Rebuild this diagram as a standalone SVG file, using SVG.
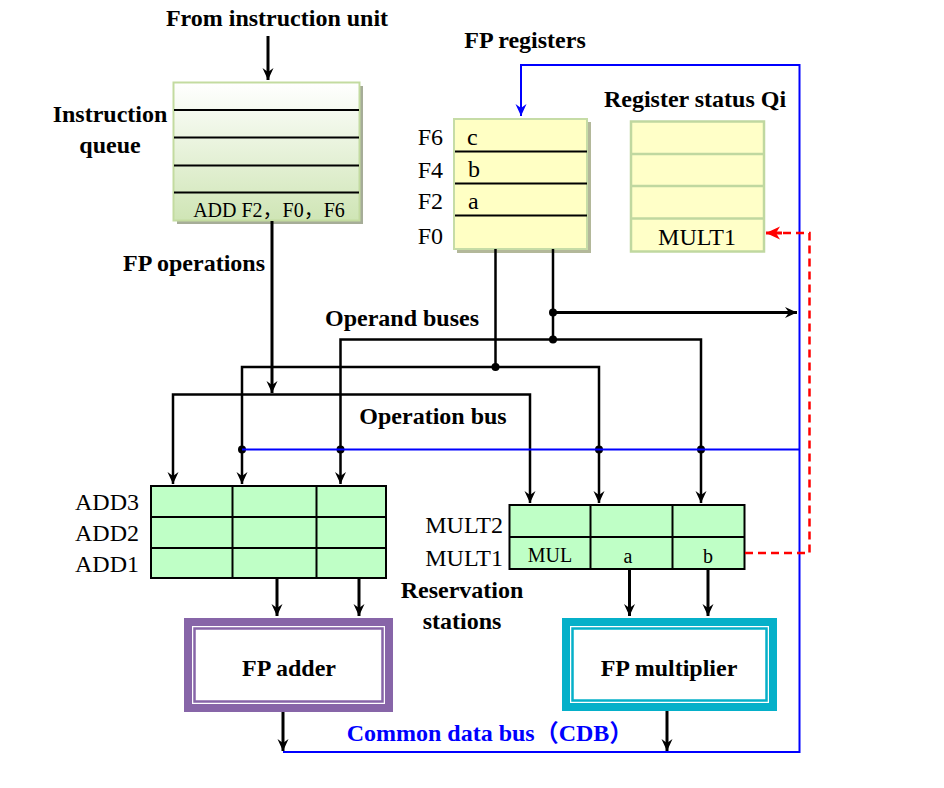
<svg xmlns="http://www.w3.org/2000/svg" width="944" height="788" viewBox="0 0 944 788">
<style>
text{font-family:"Liberation Serif","Times New Roman","Noto Sans CJK SC",serif;fill:#000}
.b{font-weight:bold;font-size:24px}
.r{font-size:24px}
.s{font-size:20px}
.ln{stroke:#000;stroke-width:2.5;fill:none}
.th{stroke:#000;stroke-width:3;fill:none}
.bl{stroke:#0000ff;stroke-width:2;fill:none}
.grid{stroke:#000;stroke-width:2;fill:none}
</style>
<defs>
<marker id="ah" markerWidth="14" markerHeight="12" viewBox="-12 -6 14 12" refX="0" refY="0" orient="auto-start-reverse" markerUnits="userSpaceOnUse">
<path d="M0,0 L-12,-5.5 L-8,0 L-12,5.5 z" fill="#000"/>
</marker>
<marker id="ahb" markerWidth="14" markerHeight="12" viewBox="-12 -6 14 12" refX="0" refY="0" orient="auto" markerUnits="userSpaceOnUse">
<path d="M0,0 L-12,-5.5 L-8,0 L-12,5.5 z" fill="#0000ff"/>
</marker>
<marker id="ahr" markerWidth="16" markerHeight="14" viewBox="-14 -7 16 14" refX="0" refY="0" orient="auto" markerUnits="userSpaceOnUse">
<path d="M0,0 L-14,-6.5 L-10,0 L-14,6.5 z" fill="#ff0000"/>
</marker>
<linearGradient id="qg" x1="0" y1="0" x2="0" y2="1">
<stop offset="0" stop-color="#ffffff"/>
<stop offset="1" stop-color="#cfe5b5"/>
</linearGradient>
</defs>

<!-- Labels -->
<g id="labels">
<text class="b" x="277" y="26" text-anchor="middle">From instruction unit</text>
<text class="b" x="110" y="122" text-anchor="middle">Instruction</text>
<text class="b" x="110" y="153" text-anchor="middle">queue</text>
<text class="b" x="194" y="271" text-anchor="middle">FP operations</text>
<text class="b" x="525" y="48" text-anchor="middle">FP registers</text>
<text class="b" x="695" y="107" text-anchor="middle">Register status Qi</text>
<text class="b" x="402" y="326" text-anchor="middle">Operand buses</text>
<text class="b" x="433" y="424" text-anchor="middle">Operation bus</text>
<text class="b" x="462" y="598" text-anchor="middle">Reservation</text>
<text class="b" x="462" y="629" text-anchor="middle">stations</text>
<text class="b" x="490" y="741" text-anchor="middle" style="fill:#0000ff">Common data bus（CDB）</text>
</g>

<!-- Instruction queue -->
<g id="instruction-queue">
<rect x="177" y="86" width="186" height="138" fill="#a6ad98"/>
<rect x="173.5" y="82.5" width="186" height="138" fill="url(#qg)" stroke="#c3dba0" stroke-width="2"/>
<line class="grid" x1="174" y1="110" x2="359" y2="110"/>
<line class="grid" x1="174" y1="137.5" x2="359" y2="137.5"/>
<line class="grid" x1="174" y1="165.5" x2="359" y2="165.5"/>
<line class="grid" x1="174" y1="192.5" x2="359" y2="192.5"/>
<text x="269" y="217" text-anchor="middle" style="font-size:20px">ADD F2，F0，F6</text>
</g>

<!-- FP registers -->
<g id="fp-registers">
<rect x="457" y="122" width="134" height="131" fill="#b3b89a"/>
<rect x="454" y="119" width="133" height="130" fill="#ffffc4" stroke="#c6dca6" stroke-width="2"/>
<line class="grid" x1="455" y1="151.5" x2="587" y2="151.5"/>
<line class="grid" x1="455" y1="183.5" x2="587" y2="183.5"/>
<line class="grid" x1="455" y1="215.5" x2="587" y2="215.5"/>
<text class="r" x="443" y="145" text-anchor="end">F6</text>
<text class="r" x="443" y="178" text-anchor="end">F4</text>
<text class="r" x="443" y="209" text-anchor="end">F2</text>
<text class="r" x="443" y="244" text-anchor="end">F0</text>
<text class="r" x="467" y="145">c</text>
<text class="r" x="468" y="177">b</text>
<text class="r" x="468" y="209">a</text>
</g>

<!-- Register status -->
<g id="register-status">
<rect x="631" y="121.5" width="133" height="130" fill="#ffffc8" stroke="#c0d8a0" stroke-width="2.5"/>
<line x1="631" y1="154" x2="764" y2="154" stroke="#c0d8a0" stroke-width="2.5"/>
<line x1="631" y1="186" x2="764" y2="186" stroke="#c0d8a0" stroke-width="2.5"/>
<line x1="631" y1="218.5" x2="764" y2="218.5" stroke="#c0d8a0" stroke-width="2.5"/>
<text class="r" x="697" y="245" text-anchor="middle">MULT1</text>
</g>

<!-- Adder reservation stations -->
<g id="add-stations">
<rect x="151" y="486" width="235" height="92" fill="#bfffc6" stroke="#000" stroke-width="2"/>
<line class="grid" x1="151" y1="517" x2="386" y2="517"/>
<line class="grid" x1="151" y1="548" x2="386" y2="548"/>
<line class="grid" x1="232.5" y1="486" x2="232.5" y2="578"/>
<line class="grid" x1="316.5" y1="486" x2="316.5" y2="578"/>
<text class="r" x="139" y="510" text-anchor="end">ADD3</text>
<text class="r" x="139" y="541" text-anchor="end">ADD2</text>
<text class="r" x="139" y="572" text-anchor="end">ADD1</text>
</g>

<!-- Multiplier reservation stations -->
<g id="mult-stations">
<rect x="509.5" y="505" width="235" height="64" fill="#bfffc6" stroke="#000" stroke-width="2"/>
<line class="grid" x1="509.5" y1="537" x2="744.5" y2="537"/>
<line class="grid" x1="590.5" y1="505" x2="590.5" y2="569"/>
<line class="grid" x1="672.5" y1="505" x2="672.5" y2="569"/>
<text class="r" x="503" y="533" text-anchor="end">MULT2</text>
<text class="r" x="503" y="566" text-anchor="end">MULT1</text>
<text class="s" x="550" y="562" text-anchor="middle">MUL</text>
<text class="s" x="628" y="563" text-anchor="middle">a</text>
<text class="s" x="708" y="563" text-anchor="middle">b</text>
</g>

<!-- FP adder -->
<g id="fp-adder">
<rect x="184" y="618" width="209" height="94" fill="#8765a8"/>
<rect x="192" y="626" width="193" height="78" fill="#ffffff"/>
<rect x="194.5" y="628.5" width="188" height="73" fill="#ffffff" stroke="#8765a8" stroke-width="2.5"/>
<text class="b" x="289" y="676" text-anchor="middle">FP adder</text>
</g>

<!-- FP multiplier -->
<g id="fp-multiplier">
<rect x="562" y="618" width="215" height="93" fill="#05b0c9"/>
<rect x="570" y="626" width="199" height="77" fill="#ffffff"/>
<rect x="572.5" y="628.5" width="194" height="72" fill="#ffffff" stroke="#05b0c9" stroke-width="2.5"/>
<text class="b" x="669" y="676" text-anchor="middle">FP multiplier</text>
</g>

<!-- Connectors -->
<g id="connectors">
<line class="th" x1="268" y1="36" x2="268" y2="80" marker-end="url(#ah)"/>
<line class="th" x1="272" y1="221" x2="272" y2="393" marker-end="url(#ah)"/>
<polyline class="ln" points="173,484 173,394.5 530,394.5 530,503" marker-start="url(#ah)" marker-end="url(#ah)"/>
<line class="ln" x1="495.5" y1="249" x2="495.5" y2="367"/>
<polyline class="ln" points="242,484 242,367 599,367 599,503" marker-start="url(#ah)" marker-end="url(#ah)"/>
<line class="ln" x1="553" y1="249" x2="553" y2="339.5"/>
<polyline class="ln" points="340.5,484 340.5,339.5 701,339.5 701,503" marker-start="url(#ah)" marker-end="url(#ah)"/>
<line class="th" x1="553" y1="312.5" x2="797" y2="312.5" marker-end="url(#ah)"/>
<g fill="#000">
<circle cx="495.5" cy="367" r="4"/>
<circle cx="553" cy="339.5" r="4"/>
<circle cx="553" cy="312.5" r="4"/>
<circle cx="242" cy="449.5" r="4"/>
<circle cx="340.5" cy="449.5" r="4"/>
<circle cx="599" cy="449.5" r="4"/>
<circle cx="701" cy="449.5" r="4"/>
</g>
<polyline class="bl" points="283,752 799.5,752 799.5,65 521,65 521,116" marker-end="url(#ahb)"/>
<line class="bl" x1="242" y1="449.5" x2="799.5" y2="449.5"/>
<line class="th" x1="277" y1="578" x2="277" y2="616" marker-end="url(#ah)"/>
<line class="th" x1="359" y1="578" x2="359" y2="616" marker-end="url(#ah)"/>
<line class="th" x1="629.5" y1="569" x2="629.5" y2="616" marker-end="url(#ah)"/>
<line class="th" x1="708" y1="569" x2="708" y2="616" marker-end="url(#ah)"/>
<line class="th" x1="283" y1="712" x2="283" y2="751" marker-end="url(#ah)"/>
<line class="th" x1="667" y1="711" x2="667" y2="751" marker-end="url(#ah)"/>
<polyline points="745,553 809.5,553 809.5,233 780,233" fill="none" stroke="#ff0000" stroke-width="2.5" stroke-dasharray="8,5"/>
<line x1="782" y1="233" x2="766" y2="233" stroke="#ff0000" stroke-width="3" marker-end="url(#ahr)"/>
</g>
</svg>
